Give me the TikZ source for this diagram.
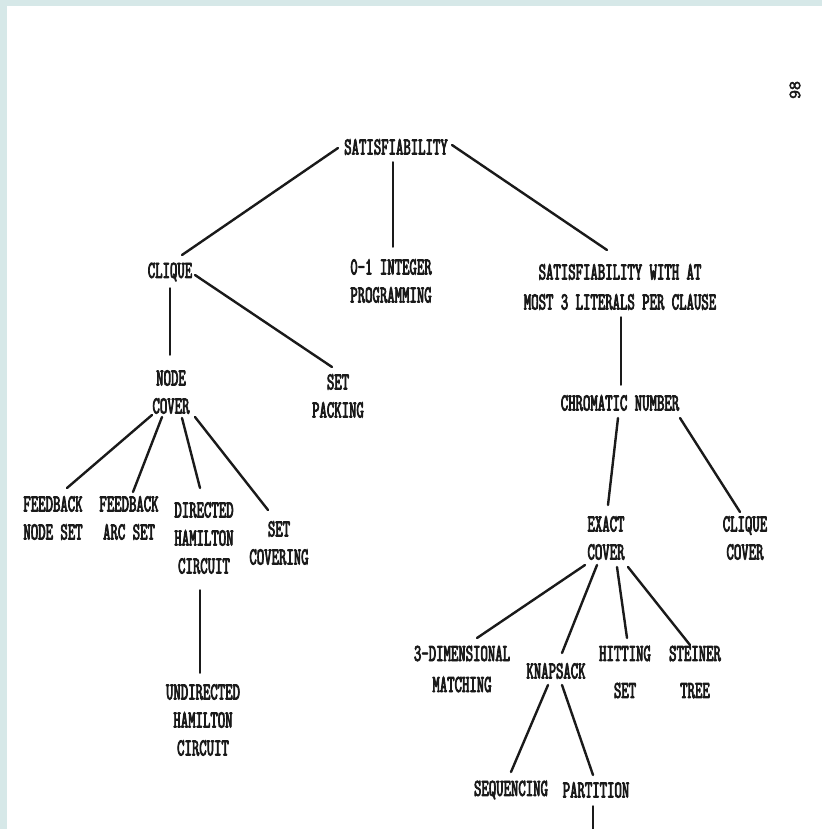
\documentclass[tikz,border=0pt]{standalone}
\usepackage{fontspec}
\usetikzlibrary{calc}
% condensed typewriter face for the problem names
\newfontfamily\tw[FakeStretch=0.575,FakeBold=3]{lmmono10-regular.otf}
\newfontfamily\pgfont[FakeBold=3]{lmmono10-regular.otf}
\definecolor{ink}{HTML}{1A1A1A}
\definecolor{frame}{HTML}{D6E8E8}
\tikzset{
  lbl/.style={font=\tw\fontsize{24.5}{28}\selectfont, align=center, inner sep=0pt, text=ink},
  edge/.style={draw=ink, line width=2.4pt, line cap=round},
  stem/.style={draw=ink, line width=1.5pt, line cap=round},
}
\begin{document}
\begin{tikzpicture}[x=1pt,y=-1pt]
  % page with a tinted margin on the top and left
  \useasboundingbox (0,0) rectangle (822,829);
  \fill[frame] (0,0) rectangle (822,829);
  \fill[white] (7,6) rectangle (822,829);

  % page number
  \node[font=\pgfont\fontsize{17}{17}\selectfont, text=ink, rotate=90, inner sep=0pt] (pg) at (795,90) {98};

  % problems
  \node[lbl] (sat)    at (396,147) {SATISFIABILITY};
  \node[lbl] (ilp)    at (391,281) {0-1 INTEGER\\PROGRAMMING};
  \node[lbl] (clique) at (170,272) {CLIQUE};
  \node[lbl] (sat3)   at (620,287) {SATISFIABILITY WITH AT\\[2pt]MOST 3 LITERALS PER CLAUSE};
  \node[lbl] (nc)     at (171,392) {NODE\\COVER};
  \node[lbl] (sp)     at (338,396) {SET\\PACKING};
  \node[lbl] (chrom)  at (620,403) {CHROMATIC NUMBER};
  \node[lbl] (fns)    at (53,518)  {FEEDBACK\\NODE SET};
  \node[lbl] (fas)    at (129,518) {FEEDBACK\\ARC SET};
  \node[lbl] (dhc)    at (204,538) {DIRECTED\\HAMILTON\\CIRCUIT};
  \node[lbl] (sc)     at (279,543) {SET\\COVERING};
  \node[lbl] (uhc)    at (203,720) {UNDIRECTED\\HAMILTON\\CIRCUIT};
  \node[lbl] (ec)     at (606,538) {EXACT\\COVER};
  \node[lbl] (cc)     at (745,538) {CLIQUE\\COVER};
  \node[lbl] (tdm)    at (462,669) {3-DIMENSIONAL\\[3pt]MATCHING};
  \node[lbl] (ks)     at (556,671) {KNAPSACK};
  \node[lbl] (hs)     at (625,672) {HITTING\\[9pt]SET};
  \node[lbl] (st)     at (695,672) {STEINER\\[9pt]TREE};
  \node[lbl] (seq)    at (511,790) {SEQUENCING};
  \node[lbl] (part)   at (596,790) {PARTITION};
  \coordinate (below) at (593,829);

  % reductions
  \draw[edge] ($(sat)+(-58,1)$)    -- ($(clique)+(12,-17)$);
  \draw[stem] ($(sat)+(-3,15)$)    -- ($(ilp)+(2,-34)$);
  \draw[edge] ($(sat)+(56,-2)$)    -- ($(sat3)+(-13,-37)$);
  \draw[stem] ($(clique)+(0,16)$)  -- ($(nc)+(-1,-37)$);
  \draw[edge] ($(clique)+(25,3)$)  -- ($(sp)+(-6,-29)$);
  \draw[edge] ($(nc)+(-19,23)$)    -- ($(fns)+(14,-30)$);
  \draw[edge] ($(nc)+(-9,25)$)     -- ($(fas)+(4,-26)$);
  \draw[edge] ($(nc)+(11,26)$)     -- ($(dhc)+(-4,-50)$);
  \draw[edge] ($(nc)+(24,25)$)     -- ($(sc)+(-11,-33)$);
  \draw[stem] ($(dhc)+(-4,52)$)    -- ($(uhc)+(-3,-47)$);
  \draw[stem] ($(sat3)+(1,30)$)    -- ($(chrom)+(1,-18)$);
  \draw[edge] ($(chrom)+(-2,15)$)  -- ($(ec)+(2,-33)$);
  \draw[edge] ($(chrom)+(60,15)$)  -- ($(cc)+(-5,-26)$);
  \draw[edge] ($(ec)+(-21,27)$)    -- ($(tdm)+(15,-31)$);
  \draw[edge] ($(ec)+(-9,27)$)     -- ($(ks)+(6,-18)$);
  \draw[edge] ($(ec)+(11,29)$)     -- ($(hs)+(2,-34)$);
  \draw[edge] ($(ec)+(22,29)$)     -- ($(st)+(-5,-27)$);
  \draw[edge] ($(ks)+(-8,14)$)     -- ($(seq)+(0,-18)$);
  \draw[edge] ($(ks)+(6,14)$)      -- ($(part)+(-3,-15)$);
  \draw[stem] ($(part)+(-3,16)$)   -- (below);
\end{tikzpicture}
\end{document}
